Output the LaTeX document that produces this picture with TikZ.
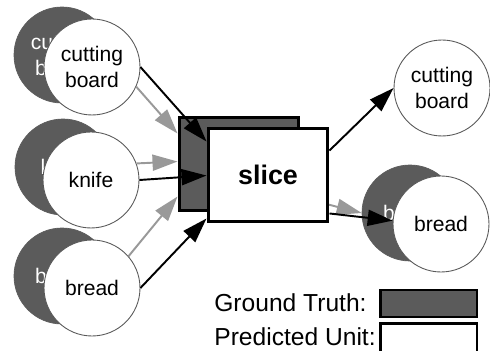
\documentclass[tikz,border=0pt]{standalone}
\usepackage{fontspec}
\setmainfont{Liberation Sans}
\usetikzlibrary{arrows.meta,calc}
\definecolor{gtfill}{HTML}{5B5B5B}
\definecolor{arrgray}{HTML}{999999}
\begin{document}
\begin{tikzpicture}[x=0.02cm,y=-0.02cm,
  gtcirc/.style={circle,fill=gtfill,draw=gtfill,minimum size=1.92cm,inner sep=0pt,text=white,align=center,font=\fontsize{12}{15}\selectfont},
  pucirc/.style={circle,fill=white,draw=black!65,line width=0.5pt,minimum size=1.92cm,inner sep=0pt,align=center,font=\fontsize{12}{15}\selectfont},
  gtbox/.style={rectangle,fill=gtfill,draw=black,line width=1.7pt,minimum width=2.4cm,minimum height=1.88cm,inner sep=0pt},
  pubox/.style={rectangle,fill=white,draw=black,line width=1.7pt,minimum width=2.4cm,minimum height=1.88cm,inner sep=0pt,font=\fontsize{15.3}{18}\selectfont\bfseries},
  gtarr/.style={draw=arrgray,line width=1.1pt,-{Triangle[length=0.5cm,width=0.32cm]}},
  puarr/.style={draw=black,line width=1.1pt,-{Triangle[length=0.5cm,width=0.32cm]}},
  legtext/.style={anchor=west,inner sep=0pt,font=\fontsize{14}{17}\selectfont}
]
\useasboundingbox[fill=white] (0,0) rectangle (490,351);
% left circles
\node[gtcirc] (gcb) at (62,55) {cutting\\board};
\node[pucirc] (pcb) at (92,67) {cutting\\board};
\node[gtcirc] (gkn) at (63,167) {knife};
\node[pucirc] (pkn) at (91,180) {knife};
\node[gtcirc] (gbr) at (62,276) {bread};
\node[pucirc] (pbr) at (92,288) {bread};
% right circles
\node[pucirc] (pcbr) at (442,88) {cutting\\board};
\node[gtcirc] (gbrr) at (410,213) {bread};
\node[pucirc] (pbrr) at (441,224) {bread};
% ground truth unit
\node[gtbox] (gt) at (239,164) {};
% gray (ground truth) arrows
\draw[gtarr] (pcb.-24) -- ($(gt.north west)+(0,18)$);
\draw[gtarr] (pkn.20) -- ($(gt.north west)+(0,46)$);
\draw[gtarr] (pbr.41) -- ($(gt.north west)+(0,81)$);
\draw[gtarr] ($(gt.north east)+(0,82)$) -- (gbrr.west);
% predicted unit
\node[pubox] (pu) at (268,175) {slice};
% black (predicted) arrows
\draw[puarr] (pcb.east) -- ($(pu.north west)+(0,15)$);
\draw[puarr] (pkn.east) -- ($(pu.north west)+(0,49)$);
\draw[puarr] (pbr.east) -- ($(pu.south west)+(0,-5)$);
\draw[puarr] ($(pu.north east)+(0,24)$) -- (pcbr.west);
\draw[puarr] ($(pu.south east)+(0,-10)$) -- (pbrr.176);
% legend
\node[legtext] (lgt) at (214,303) {Ground Truth:};
\node[legtext] (lpu) at (214,337) {Predicted Unit:};
\node[gtbox,minimum width=1.94cm,minimum height=0.54cm] (bgt) at (428.5,303.5) {};
\node[pubox,minimum width=1.94cm,minimum height=0.7cm] (bpu) at (428.5,341) {};
\end{tikzpicture}
\end{document}
